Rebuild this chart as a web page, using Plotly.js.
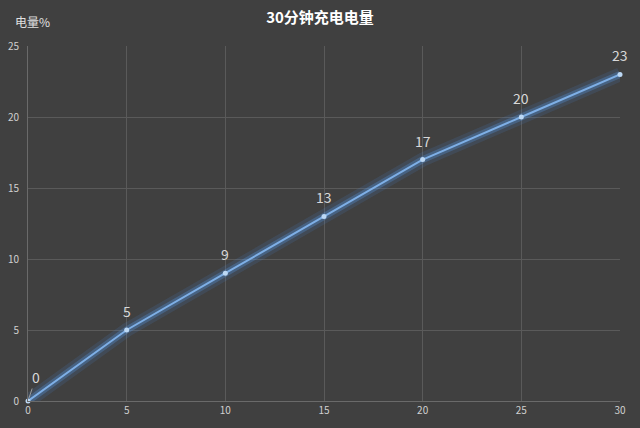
<!DOCTYPE html>
<html>
<head>
<meta charset="utf-8">
<script src="https://cdn.plot.ly/plotly-3.0.1.min.js"></script>
<style>
  html, body { margin: 0; padding: 0; background: #404040; }
  #chart { width: 640px; height: 428px; }
</style>
</head>
<body>
<div id="chart"></div>
<script>
// charge time (minutes) and battery level (%)
const minutes = [0, 5, 10, 15, 20, 25, 30];
const charge = [0, 5, 9, 13, 17, 20, 23];
const xTicks = [0, 5, 10, 15, 20, 25, 30];
const yTicks = [0, 5, 10, 15, 20, 25];

const font = "'Noto Sans CJK SC', 'Noto Sans', sans-serif";

// soft glow under the main line
const glowOuter = {
  x: minutes, y: charge, type: "scatter", mode: "lines",
  line: { color: "rgba(80,150,240,0.13)", width: 14 },
  hoverinfo: "skip", showlegend: false,
};
const glowInner = {
  x: minutes, y: charge, type: "scatter", mode: "lines",
  line: { color: "rgba(90,160,245,0.28)", width: 7 },
  hoverinfo: "skip", showlegend: false,
};

const main = {
  x: minutes, y: charge, type: "scatter", mode: "lines+markers",
  line: { color: "#7eafe6", width: 2 },
  marker: { color: "#bcd8f5", size: 5 },
  cliponaxis: false,
  showlegend: false,
};

// value labels above the points; the first one gets a leader line
const valueLabels = minutes.map((m, i) => {
  if (i === 0) {
    return {
      x: m, y: charge[i], xref: "x", yref: "y",
      text: String(charge[i]),
      showarrow: true, arrowhead: 0, arrowwidth: 1, arrowcolor: "#9a9a9a",
      ax: 8, ay: -24, standoff: 3,
      font: { size: 14, color: "#d8d8d8", family: font },
    };
  }
  return {
    x: m, y: charge[i], xref: "x", yref: "y",
    text: String(charge[i]),
    showarrow: false, yanchor: "bottom", yshift: 7,
    font: { size: 14, color: "#d8d8d8", family: font },
  };
});

const layout = {
  width: 640,
  height: 428,
  paper_bgcolor: "#404040",
  plot_bgcolor: "#404040",
  margin: { t: 46, l: 28, r: 20, b: 27 },
  font: { family: font, color: "#d0d0d0" },
  title: {
    text: "<b>30分钟充电电量</b>",
    font: { size: 15, color: "#ffffff", family: font },
    x: 0.5, xanchor: "center", y: 0.958, yanchor: "middle",
  },
  xaxis: {
    range: [0, 30],
    tickvals: xTicks,
    ticktext: xTicks.map(String),
    showgrid: true,
    gridcolor: "#5a5a5a",
    zeroline: false,
    showline: true,
    linecolor: "#6a6a6a",
    ticks: "",
    tickfont: { size: 10, color: "#d0d0d0" },
    fixedrange: true,
  },
  yaxis: {
    range: [0, 25],
    tickvals: yTicks,
    ticktext: yTicks.map(String),
    showgrid: true,
    gridcolor: "#5a5a5a",
    zeroline: false,
    showline: true,
    linecolor: "#6a6a6a",
    ticks: "",
    ticklabelstandoff: 6,
    tickfont: { size: 10, color: "#d0d0d0" },
    fixedrange: true,
  },
  annotations: [
    {
      text: "电量%",
      xref: "paper", yref: "paper",
      x: -0.025, y: 1.07, xanchor: "left", yanchor: "middle",
      showarrow: false,
      font: { size: 12, color: "#e0e0e0", family: font },
    },
    ...valueLabels,
  ],
};

Plotly.newPlot("chart", [glowOuter, glowInner, main], layout, {
  displayModeBar: false,
  staticPlot: true,
});
</script>
</body>
</html>
